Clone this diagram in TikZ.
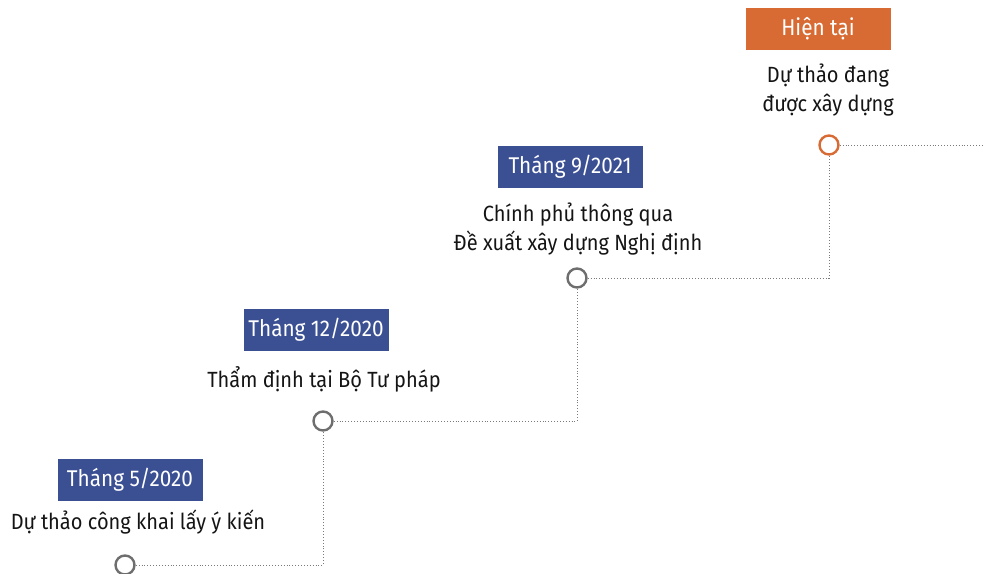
\documentclass[tikz,border=0pt]{standalone}
\usepackage{fontspec}
\setmainfont{Fira Sans}[FakeStretch=0.91]
\definecolor{boxblue}{HTML}{3B4F93}
\definecolor{boxorange}{HTML}{D76B33}
\definecolor{ringgray}{HTML}{6E6E6E}
\definecolor{dotgray}{HTML}{7A7A7A}
\begin{document}
\begin{tikzpicture}[x=1pt,y=-1pt,
  datebox/.style={fill=boxblue,text=white,minimum width=145pt,minimum height=42pt,inner sep=0pt,font=\fontsize{22.8}{25}\selectfont},
  nowbox/.style={datebox,fill=boxorange},
  desc/.style={align=center,text=black!92,font=\fontsize{22}{29}\selectfont},
  ring/.style={circle,draw=ringgray,line width=2.4pt,fill=white,minimum size=19pt,inner sep=0pt},
  nowring/.style={ring,draw=boxorange},
  link/.style={draw=dotgray,dotted,line width=0.9pt}]
\useasboundingbox (0,0) rectangle (984,573);
% milestones
\node[datebox] (d1) at (130,480) {Tháng 5/2020};
\node[desc] (t1) at (138,522) {Dự thảo công khai lấy ý kiến};
\node[ring] (c1) at (125,565) {};
\node[datebox] (d2) at (316,330) {Tháng 12/2020};
\node[desc] (t2) at (324,379) {Thẩm định tại Bộ Tư pháp};
\node[ring] (c2) at (323,421) {};
\node[datebox] (d3) at (570,167) {Tháng 9/2021};
\node[desc] (t3) at (578,229) {Chính phủ thông qua\\Đề xuất xây dựng Nghị định};
\node[ring] (c3) at (577,278) {};
\node[nowbox] (d4) at (818,29) {Hiện tại};
\node[desc] (t4) at (828,90) {Dự thảo đang\\được xây dựng};
\node[nowring] (c4) at (829,145) {};
\coordinate (e) at (984,145);
% connectors
\draw[link] (c1) -| (c2);
\draw[link] (c2) -| (c3);
\draw[link] (c3) -| (c4);
\draw[link] (c4) -- (e);
\end{tikzpicture}
\end{document}
